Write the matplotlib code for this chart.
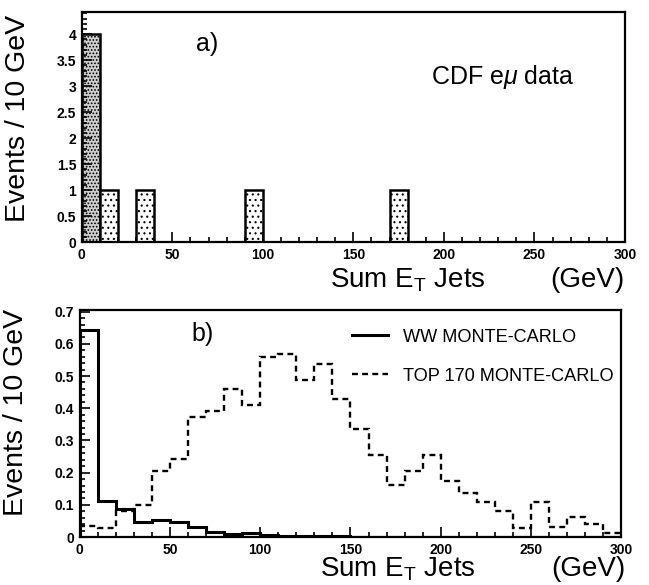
import matplotlib.pyplot as plt
import numpy as np

plt.rcParams['font.family'] = ['Liberation Sans', 'DejaVu Sans']
plt.rcParams['mathtext.fontset'] = 'custom'
plt.rcParams['mathtext.rm'] = 'Liberation Sans'
plt.rcParams['mathtext.it'] = 'Liberation Sans:italic'
plt.rcParams['hatch.linewidth'] = 0.8

# ビンの端 (GeV)
edges = np.arange(0, 310, 10)

# a) CDF e-mu データ (事象数 / 10 GeV)
data_counts = [4, 1, 0, 1, 0, 0, 0, 0, 0, 1,
               0, 0, 0, 0, 0, 0, 0, 1, 0, 0,
               0, 0, 0, 0, 0, 0, 0, 0, 0, 0]

# b) モンテカルロ
ww_mc = [0.642, 0.112, 0.086, 0.047, 0.052, 0.046, 0.030, 0.016, 0.010, 0.014,
         0.005, 0.003, 0.002, 0.002, 0.002, 0, 0, 0, 0, 0,
         0, 0, 0, 0, 0, 0, 0, 0, 0, 0]
top_mc = [0.035, 0.027, 0.080, 0.100, 0.205, 0.243, 0.374, 0.393, 0.459, 0.410,
          0.560, 0.570, 0.488, 0.537, 0.429, 0.335, 0.255, 0.163, 0.204, 0.254,
          0.173, 0.138, 0.110, 0.080, 0.029, 0.108, 0.032, 0.061, 0.040, 0.013]

ytick_a = [0, 0.5, 1, 1.5, 2, 2.5, 3, 3.5, 4]
ytick_a_labels = ['0', '0.5', '1', '1.5', '2', '2.5', '3', '3.5', '4']
ytick_b = [0, 0.1, 0.2, 0.3, 0.4, 0.5, 0.6, 0.7]
ytick_b_labels = ['0', '0.1', '0.2', '0.3', '0.4', '0.5', '0.6', '0.7']
xticks = [0, 50, 100, 150, 200, 250, 300]

fig = plt.figure(figsize=(6.49, 5.85), dpi=100)
ax1 = fig.add_axes([0.126, 0.586, 0.837, 0.393])
ax2 = fig.add_axes([0.123, 0.082, 0.834, 0.388])


def style_axis(ax, yt, ytl, yminor, ymax):
    ax.set_xlim(0, 300)
    ax.set_ylim(0, ymax)
    ax.set_xticks(xticks)
    ax.set_xticklabels([str(t) for t in xticks])
    ax.set_xticks(np.arange(0, 301, 10), minor=True)
    ax.set_yticks(yt)
    ax.set_yticklabels(ytl)
    ax.set_yticks(yminor, minor=True)
    ax.tick_params(which='both', direction='in', width=1.2, labelsize=10, pad=4)
    ax.tick_params(which='major', length=7)
    ax.tick_params(which='minor', length=3.5)
    for lab in ax.get_xticklabels() + ax.get_yticklabels():
        lab.set_fontweight('bold')
    for s in ax.spines.values():
        s.set_linewidth(1.6)
    ax.set_ylabel('Events / 10 GeV', fontsize=20.5)


# a)
widths = np.diff(edges)
for left, w, c in zip(edges[:-1], widths, data_counts):
    if c > 0:
        dense = c > 1
        ax1.bar(left, c, width=w, align='edge',
                facecolor='#cfcfcf' if dense else 'white',
                edgecolor='black', linewidth=1.8,
                hatch='.....' if dense else '...')
style_axis(ax1, ytick_a, ytick_a_labels, np.arange(0, 4.41, 0.1), 4.42)
ax1.yaxis.set_label_coords(-0.094, 0.54)
ax1.text(0.23, 0.86, 'a)', transform=ax1.transAxes, fontsize=18, ha='center', va='center')
ax1.text(0.775, 0.717, r'CDF e$\mathit{\mu}$ data', transform=ax1.transAxes,
         fontsize=18, ha='center', va='center')
ax1.text(0.60, -0.165, r'Sum E$_\mathrm{T}$ Jets', transform=ax1.transAxes,
         fontsize=20, ha='center', va='center')
ax1.text(0.93, -0.165, '(GeV)', transform=ax1.transAxes,
         fontsize=20, ha='center', va='center')

# b)
ax2.stairs(ww_mc, edges, color='black', linewidth=2.2, label='WW MONTE-CARLO')
ax2.stairs(top_mc, edges, color='black', linewidth=1.7, linestyle=(0, (2.5, 1.8)),
           label='TOP 170 MONTE-CARLO')
style_axis(ax2, ytick_b, ytick_b_labels, np.arange(0, 0.701, 0.02), 0.705)
ax2.yaxis.set_label_coords(-0.094, 0.55)
ax2.text(0.226, 0.895, 'b)', transform=ax2.transAxes, fontsize=18, ha='center', va='center')
ax2.legend(loc='upper left', bbox_to_anchor=(0.472, 0.99), frameon=False,
           fontsize=13.1, handlelength=2.0, handletextpad=0.8, labelspacing=1.2)
ax2.text(0.588, -0.142, r'Sum E$_\mathrm{T}$ Jets', transform=ax2.transAxes,
         fontsize=20, ha='center', va='center')
ax2.text(0.939, -0.142, '(GeV)', transform=ax2.transAxes,
         fontsize=20, ha='center', va='center')

plt.savefig('out.png', dpi=100)
